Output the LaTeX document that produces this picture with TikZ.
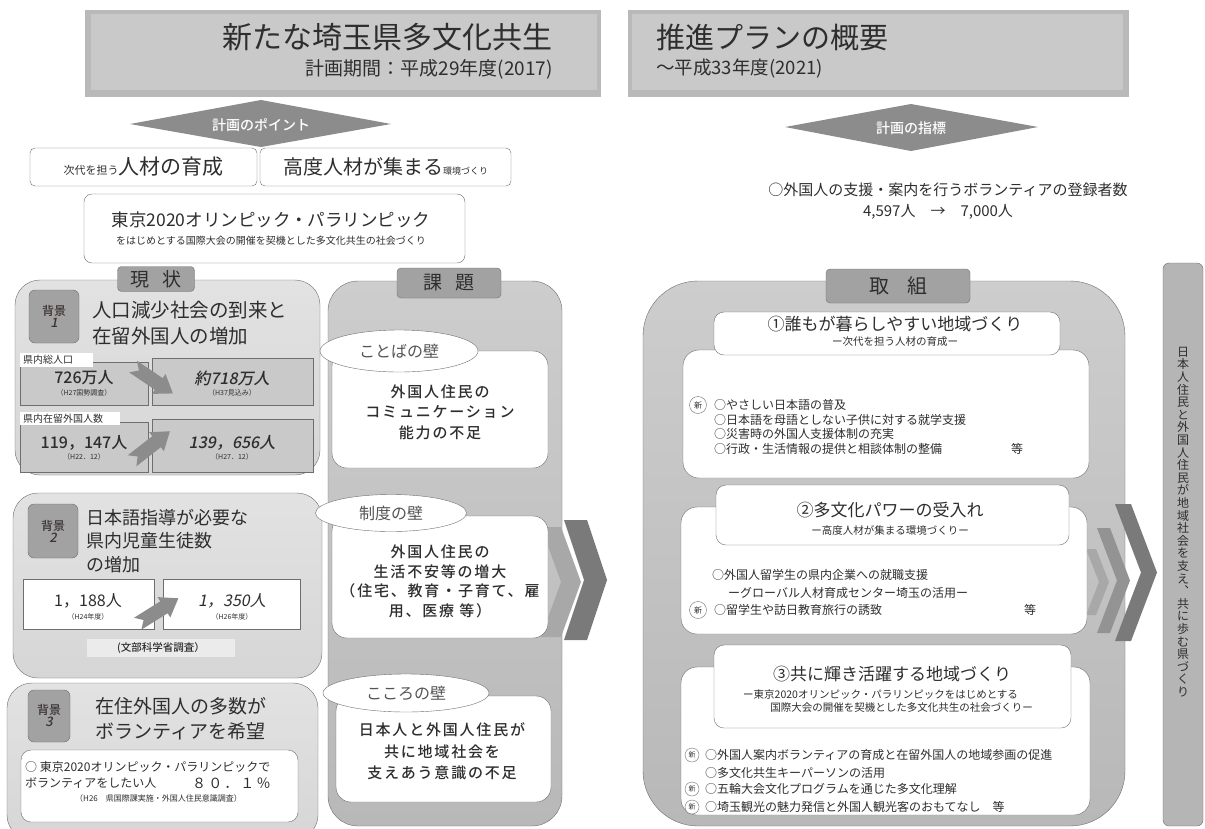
\documentclass[tikz,border=0pt]{standalone}
\usepackage{fontspec}
\setmainfont{Noto Sans CJK JP}[BoldFont={Noto Sans CJK JP Medium}]
\newfontfamily\jpit{Noto Sans CJK JP}[FakeSlant=0.2, BoldFont={Noto Sans CJK JP Medium}]
\usetikzlibrary{shapes.geometric}
\definecolor{tc}{HTML}{2E2E2E}
\definecolor{tcl}{HTML}{555555}
\definecolor{hdrO}{HTML}{B9B9B9}
\definecolor{hdrI}{HTML}{C9C9C9}
\definecolor{dia}{HTML}{8C8C8C}
\definecolor{tabf}{HTML}{A2A2A2}
\definecolor{bdr}{HTML}{6E6E6E}
\definecolor{pnlT}{HTML}{E2E2E2}
\definecolor{pnlM}{HTML}{F2F2F2}
\definecolor{pnlB}{HTML}{D6D6D6}
\definecolor{colT}{HTML}{CDCDCD}
\definecolor{colB}{HTML}{B8B8B8}
\definecolor{numbox}{HTML}{C9C9C9}
\definecolor{chevL}{HTML}{A8A8A8}
\definecolor{chevM}{HTML}{939393}
\definecolor{chevD}{HTML}{7A7A7A}
\definecolor{barf}{HTML}{B5B5B5}
\definecolor{lbl}{HTML}{3C3434}
\definecolor{srcbox}{HTML}{EBEBEB}
\newcommand{\fsz}[2]{\fontsize{#1}{#2}\selectfont}
\newcommand{\chevron}[6]{\fill[#6] (#1,#2) -- ({#1+#4},#2) -- ({#1+#4+#5},{(#2+#3)/2}) -- ({#1+#4},#3) -- (#1,#3) -- ({#1+#5},{(#2+#3)/2}) -- cycle;}
\newcommand{\blockarrow}[3]{\begin{scope}[shift={(#1,#2)},rotate=#3]\fill[dia] (-24,-7) -- (7,-7) -- (7,-12) -- (24,0) -- (7,12) -- (7,7) -- (-24,7) -- (-17,0) -- cycle;\end{scope}}
\begin{document}
\begin{tikzpicture}[x=1pt,y=-1pt,
  txt/.style={inner sep=0pt, text=tc},
  tabbox/.style={draw=bdr, fill=tabf, rounded corners=4pt, inner sep=0pt, text=tc},
  lblbox/.style={draw=bdr, fill=tabf, rounded corners=6pt, inner sep=0pt, align=center, text=lbl},
  wall/.style={ellipse, draw=bdr, fill=white, inner sep=0pt, text=tcl, font=\fsz{16}{16}},
  shin/.style={circle, draw=bdr, fill=white, inner sep=0pt, minimum size=17pt, font=\fsz{8}{8}, text=tc},
  item/.style={inner sep=0pt, text=tc, anchor=west, font=\fsz{12}{12}}]
\useasboundingbox[fill=white] (0,0) rectangle (1205,828);

% ---------- headers ----------
\fill[hdrO] (85,10) rectangle (601,97);
\fill[hdrI] (91,14) rectangle (597,90);
\fill[hdrO] (628,10) rectangle (1129,97);
\fill[hdrI] (632,14) rectangle (1123,90);
\node[txt, anchor=east, font=\fsz{30}{30}] (title1) at (553,37) {新たな埼玉県多文化共生};
\node[txt, anchor=east, font=\fsz{19}{19}] (period1) at (553,69) {計画期間：平成29年度(2017)};
\node[txt, anchor=west, font=\fsz{29}{29}] (title2) at (656,37) {推進プランの概要};
\node[txt, anchor=west, font=\fsz{18.5}{18.5}] (period2) at (656,69) {〜平成33年度(2021)};

% ---------- diamonds ----------
\fill[dia] (130,124) -- (261,100) -- (391,124) -- (261,147) -- cycle;
\node[txt, text=white, font=\bfseries\fsz{14}{14}] (point) at (261,125) {計画のポイント};
\fill[dia] (785,127) -- (911,104) -- (1038,127) -- (911,151) -- cycle;
\node[txt, text=white, font=\bfseries\fsz{14}{14}] (index) at (911,128) {計画の指標};

% ---------- point boxes ----------
\node[draw=bdr, fill=white, rounded corners=5pt, minimum width=227pt, minimum height=38pt, inner sep=0pt, text=tc] (pA) at (143.5,167) {\fsz{11}{11}次代を担う\fsz{21}{21}人材の育成};
\node[draw=bdr, fill=white, rounded corners=5pt, minimum width=251pt, minimum height=38pt, inner sep=0pt, text=tc] (pB) at (385.5,167) {\fsz{20}{20}高度人材が集まる\fsz{9}{9}環境づくり};
\node[draw=bdr, fill=white, rounded corners=8pt, minimum width=381pt, minimum height=69pt, inner sep=0pt] (pC) at (274.5,228.5) {};
\node[txt, font=\fsz{17.5}{17.5}] (olym) at (271,220) {東京2020オリンピック・パラリンピック};
\node[txt, font=\fsz{10}{10}] (olyms) at (271,241) {をはじめとする国際大会の開催を契機とした多文化共生の社会づくり};

% ---------- left panels ----------
\shadedraw[draw=bdr, top color=pnlT, middle color=pnlM, bottom color=pnlB, rounded corners=25pt] (15,280) rectangle (320,475);
\shadedraw[draw=bdr, top color=pnlT, middle color=pnlM, bottom color=pnlB, rounded corners=25pt] (13,493) rectangle (322,678);
\shadedraw[draw=bdr, top color=pnlT, middle color=pnlM, bottom color=pnlB, rounded corners=25pt] (7,683) rectangle (318,840);

\node[tabbox, minimum width=77pt, minimum height=25pt, font=\fsz{19}{19}] (genjo) at (156,279) {現\hspace{14pt}状};

% background 1
\node[lblbox, minimum width=50pt, minimum height=53pt] (bg1) at (54,316.5) {{\bfseries\fsz{12}{15}背景}\\{\jpit\bfseries\fsz{13}{15}1}};
\node[txt, anchor=west, font=\fsz{19.5}{19.5}] (h1a) at (92,310) {人口減少社会の到来と};
\node[txt, anchor=west, font=\fsz{19.5}{19.5}] (h1b) at (92,336) {在留外国人の増加};
\path[draw=bdr, fill=numbox] (20,362) rectangle (148,405);
\path[draw=bdr, fill=numbox] (152,358) rectangle (313,405);
\fill[white] (20,353) rectangle (93,367);
\node[txt, anchor=west, font=\fsz{10}{10}] (lab1) at (23,360) {県内総人口};
\node[txt, font=\bfseries\fsz{16}{16}] (n726) at (84,378) {726万人};
\node[txt, font=\fsz{7}{7}] (n726s) at (84,393) {（H27国勢調査）};
\node[txt, font=\jpit\bfseries\fsz{16}{16}] (n718) at (232,378) {約718万人};
\node[txt, font=\fsz{7}{7}] (n718s) at (232,393) {（H37見込み）};
\path[draw=bdr, fill=numbox] (20,422) rectangle (148,472);
\path[draw=bdr, fill=numbox] (152,419) rectangle (313,472);
\fill[white] (20,412) rectangle (120,425);
\node[txt, anchor=west, font=\fsz{10}{10}] (lab2) at (23,418.5) {県内在留外国人数};
\node[txt, font=\bfseries\fsz{16}{16}] (n119) at (84,443) {119，147人};
\node[txt, font=\fsz{7}{7}] (n119s) at (84,457) {（H22．12）};
\node[txt, font=\jpit\bfseries\fsz{16}{16}] (n139) at (232,443) {139，656人};
\node[txt, font=\fsz{7}{7}] (n139s) at (232,457) {（H27．12）};
\blockarrow{153}{380}{-34}
\blockarrow{151}{446}{38}

% background 2
\node[lblbox, minimum width=50pt, minimum height=54pt] (bg2) at (53,531) {{\bfseries\fsz{12}{15}背景}\\{\jpit\bfseries\fsz{13}{15}2}};
\node[txt, anchor=west, font=\fsz{18}{18}] (h2a) at (86,518) {日本語指導が必要な};
\node[txt, anchor=west, font=\fsz{18}{18}] (h2b) at (86,541) {県内児童生徒数};
\node[txt, anchor=west, font=\fsz{18}{18}] (h2c) at (86,565) {の増加};
\path[draw=bdr, fill=white] (23,579) rectangle (154,629);
\path[draw=bdr, fill=white] (163,579) rectangle (300,629);
\node[txt, font=\fsz{16}{16}] (n1188) at (88,601) {1，188人};
\node[txt, font=\fsz{7}{7}] (n1188s) at (88,617) {（H24年度）};
\node[txt, font=\jpit\fsz{16}{16}] (n1350) at (232,601) {1，350人};
\node[txt, font=\fsz{7}{7}] (n1350s) at (232,617) {（H26年度）};
\blockarrow{158}{611}{32}
\node[fill=srcbox, minimum width=148pt, minimum height=18pt, inner sep=0pt, text=tc, font=\bfseries\fsz{10.5}{10.5}] (src) at (161,648) {(文部科学省調査）};

% background 3
\node[lblbox, minimum width=42pt, minimum height=52pt] (bg3) at (49,716) {{\bfseries\fsz{12}{15}背景}\\{\jpit\bfseries\fsz{13}{15}3}};
\node[txt, anchor=west, font=\fsz{19}{19}] (h3a) at (95,706) {在住外国人の多数が};
\node[txt, anchor=west, font=\fsz{19}{19}] (h3b) at (95,731) {ボランティアを希望};
\path[draw=bdr, fill=white, rounded corners=10pt] (21,750) rectangle (298,822);
\node[item] (v1) at (25,767) {○ 東京2020オリンピック・パラリンピックで};
\node[item] (v2) at (25,783) {ボランティアをしたい人};
\node[txt, anchor=west, font=\fsz{14}{14}\addfontfeature{LetterSpace=15}] (v3) at (192,783) {８０．１％};
\node[txt, anchor=west, font=\fsz{8}{8}] (v4) at (75,798) {（H26　県国際課実施・外国人住民意識調査）};

% ---------- issues column ----------
\shadedraw[draw=bdr, top color=colT, bottom color=colB, rounded corners=30pt] (328,281) rectangle (562,826);
\node[tabbox, minimum width=104pt, minimum height=30pt, font=\fsz{19}{19}] (kadai) at (449,283) {課\hspace{14pt}題};
\chevron{541}{527}{637}{20}{20}{chevL}
\chevron{564}{520}{640}{23}{20}{chevD}
\path[draw=bdr, fill=white, rounded corners=15pt] (332,351) rectangle (548,468);
\path[draw=bdr, fill=white, rounded corners=15pt] (332,516) rectangle (548,638);
\path[draw=bdr, fill=white, rounded corners=15pt] (336,696) rectangle (551,802);
\node[txt, align=center, font=\bfseries\fsz{15}{20.5}\addfontfeature{LetterSpace=12}] (w1) at (440,412) {外国人住民の\\コミュニケーション\\能力の不足};
\node[txt, align=center, font=\bfseries\fsz{15}{19.7}\addfontfeature{LetterSpace=12}] (w2) at (440,581.5) {外国人住民の\\生活不安等の増大\\（住宅、教育・子育て、雇\\用、医療 等）};
\node[txt, align=center, font=\bfseries\fsz{15}{21.5}\addfontfeature{LetterSpace=12}] (w3) at (442,751.5) {日本人と外国人住民が\\共に地域社会を\\支えあう意識の不足};
\node[wall, minimum width=158pt, minimum height=42pt] (e1) at (399,351) {ことばの壁};
\node[wall, minimum width=151pt, minimum height=37pt] (e2) at (391,513) {制度の壁};
\node[wall, minimum width=166pt, minimum height=38pt] (e3) at (406,693) {こころの壁};

% ---------- indicator ----------
\node[txt, font=\fsz{15}{15}] (ind1) at (948,190) {○外国人の支援・案内を行うボランティアの登録者数};
\node[txt, font=\fsz{15}{15}] (ind2) at (938,212) {4,597人\quad →\quad 7,000人};

% ---------- measures column ----------
\shadedraw[draw=bdr, top color=colT, bottom color=colB, rounded corners=55pt] (643,281) rectangle (1125,826);
\node[tabbox, minimum width=144pt, minimum height=34pt, font=\fsz{20}{20}] (torikumi) at (898,286) {取\hspace{18pt}組};
\chevron{1086}{549}{615}{10}{13}{chevL}
\chevron{1097}{528}{633}{13}{20}{chevM}
\chevron{1115}{504}{641}{16}{26}{chevD}

% section 1
\path[draw=bdr, fill=white, rounded corners=16pt] (683,350) rectangle (1089,478);
\path[draw=bdr, fill=white, rounded corners=10pt] (714,312) rectangle (1060,355);
\node[txt, font=\fsz{17}{17}] (s1t) at (895,324) {①誰もが暮らしやすい地域づくり};
\node[txt, font=\fsz{10.5}{10.5}] (s1s) at (895,342) {ー次代を担う人材の育成ー};
\node[shin] (n1) at (698,405) {新};
\node[item] (s1a) at (714,405) {○やさしい日本語の普及};
\node[item] (s1b) at (714,420) {○日本語を母語としない子供に対する就学支援};
\node[item] (s1c) at (714,434) {○災害時の外国人支援体制の充実};
\node[item] (s1d) at (714,449) {○行政・生活情報の提供と相談体制の整備};
\node[item] (s1e) at (1011,449) {等};

% section 2
\path[draw=bdr, fill=white, rounded corners=16pt] (681,507) rectangle (1087,634);
\path[draw=bdr, fill=white, rounded corners=10pt] (716,485) rectangle (1069,545);
\node[txt, font=\fsz{17}{17}] (s2t) at (890,510) {②多文化パワーの受入れ};
\node[txt, font=\fsz{10.5}{10.5}] (s2s) at (890,530) {ー高度人材が集まる環境づくりー};
\node[item] (s2a) at (712,575) {○外国人留学生の県内企業への就職支援};
\node[item] (s2b) at (728,593) {ーグローバル人材育成センター埼玉の活用ー};
\node[shin] (n2) at (698,610) {新};
\node[item] (s2c) at (714,610) {○留学生や訪日教育旅行の誘致};
\node[item] (s2d) at (1024,610) {等};

% section 3
\path[draw=bdr, fill=white, rounded corners=16pt] (681,667) rectangle (1090,815);
\path[draw=bdr, fill=white, rounded corners=10pt] (714,645) rectangle (1071,728);
\node[txt, font=\fsz{17}{17}] (s3t) at (892,674) {③共に輝き活躍する地域づくり};
\node[txt, anchor=west, font=\fsz{10.5}{10.5}] (s3s) at (743,694) {ー東京2020オリンピック・パラリンピックをはじめとする};
\node[txt, anchor=east, font=\fsz{10.5}{10.5}] (s3u) at (1033,708) {国際大会の開催を契機とした多文化共生の社会づくりー};
\node[shin, minimum size=14pt, font=\fsz{7}{7}] (n3) at (692,755) {新};
\node[item] (s3a) at (705,755) {○外国人案内ボランティアの育成と在留外国人の地域参画の促進};
\node[item] (s3b) at (705,773) {○多文化共生キーパーソンの活用};
\node[shin, minimum size=14pt, font=\fsz{7}{7}] (n4) at (692,789) {新};
\node[item] (s3c) at (705,789) {○五輪大会文化プログラムを通じた多文化理解};
\node[shin, minimum size=14pt, font=\fsz{7}{7}] (n5) at (692,807) {新};
\node[item] (s3d) at (705,807) {○埼玉観光の魅力発信と外国人観光客のおもてなし　等};

% ---------- goal bar ----------
\node[draw=bdr, fill=barf, rounded corners=6pt, minimum width=40pt, minimum height=563pt, inner sep=0pt] (goal) at (1183,544.5) {};
\node[txt, align=center, font=\fsz{12}{12.6}] (goalt) at (1183,522) {日\\本\\人\\住\\民\\と\\外\\国\\人\\住\\民\\が\\地\\域\\社\\会\\を\\支\\え\\︑\\共\\に\\歩\\む\\県\\づ\\く\\り};
\end{tikzpicture}
\end{document}
